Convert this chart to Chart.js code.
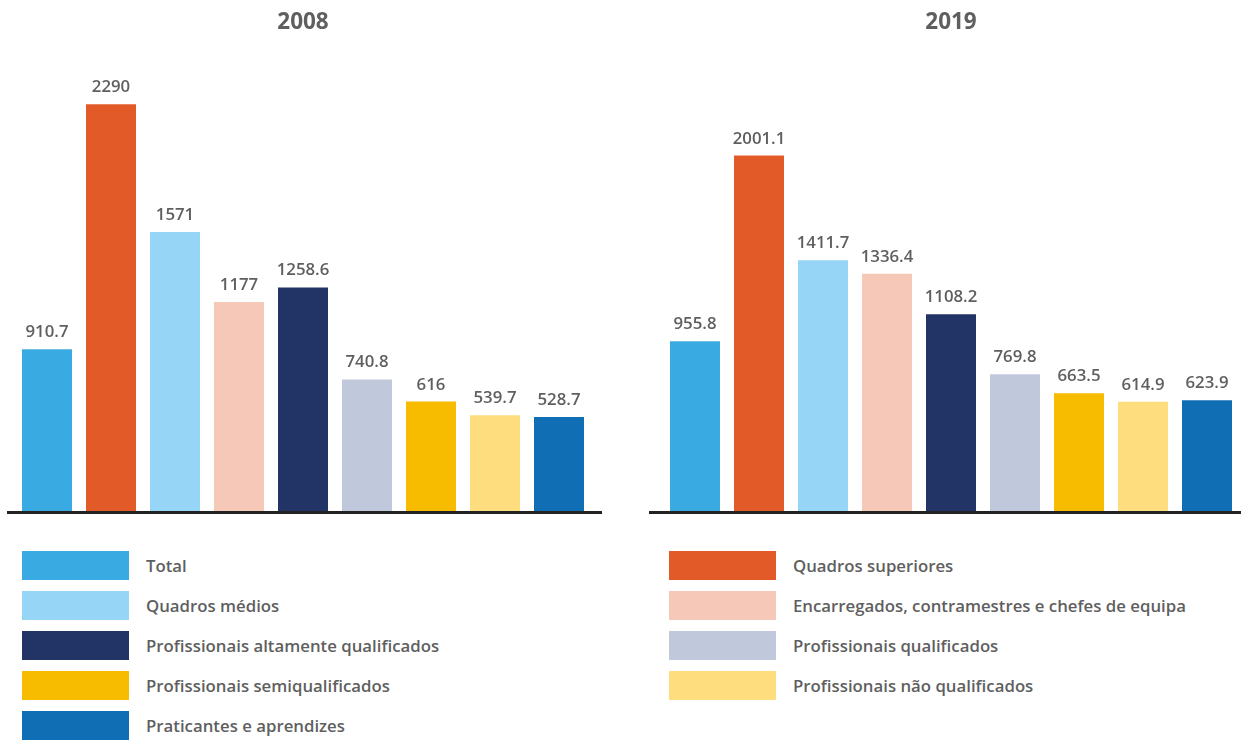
<!DOCTYPE html>
<html>
<head>
<meta charset="utf-8">
<script src="https://cdn.jsdelivr.net/npm/chart.js@4"></script>
<style>
  body { margin: 0; background: #fff; font-family: "Open Sans", sans-serif; }
  #wrap { position: relative; width: 1241px; height: 740px; overflow: hidden; }
  .box { position: absolute; top: 0; height: 520px; }
  #left { left: 0; width: 620px; }
  #right { left: 620px; width: 621px; }
  .legend { position: absolute; top: 551px; }
  .item { position: relative; height: 40px; }
  .swatch { position: absolute; left: 0; top: 0; width: 107px; height: 29px; }
  .label { position: absolute; left: 124px; top: 0; line-height: 29px; font-size: 16.8px; font-weight: 600; color: #5f5f5f; white-space: nowrap; }
</style>
</head>
<body>
<div id="wrap">
  <div class="box" id="left"><canvas id="chart2008"></canvas></div>
  <div class="box" id="right"><canvas id="chart2019"></canvas></div>
  <div class="legend" id="legendLeft" style="left:22px"></div>
  <div class="legend" id="legendRight" style="left:669px"></div>
</div>
<script>
const categories = [
  "Total",
  "Quadros superiores",
  "Quadros médios",
  "Encarregados, contramestres e chefes de equipa",
  "Profissionais altamente qualificados",
  "Profissionais qualificados",
  "Profissionais semiqualificados",
  "Profissionais não qualificados",
  "Praticantes e aprendizes",
];
const values2008 = [910.7, 2290, 1571, 1177, 1258.6, 740.8, 616, 539.7, 528.7];
const values2019 = [955.8, 2001.1, 1411.7, 1336.4, 1108.2, 769.8, 663.5, 614.9, 623.9];
const colors = ["#3aaae2", "#e35a29", "#96d5f5", "#f6c8b8", "#223466", "#c0c9dc", "#f7bb00", "#fedd7e", "#106eb5"];

const textColor = "#5f5f5f";

// value labels above bars + baseline
const barExtras = {
  id: "barExtras",
  afterDatasetsDraw(chart, args, opts) {
    const ctx = chart.ctx;
    const area = chart.chartArea;
    const y0 = chart.scales.y.getPixelForValue(0);
    ctx.save();
    ctx.strokeStyle = "#222";
    ctx.lineWidth = 3;
    ctx.beginPath();
    ctx.moveTo(area.left - opts.lineLeft, y0 + 1.5);
    ctx.lineTo(area.right + opts.lineRight, y0 + 1.5);
    ctx.stroke();

    ctx.fillStyle = textColor;
    ctx.font = "600 16.8px 'Open Sans'";
    ctx.textAlign = "center";
    ctx.textBaseline = "alphabetic";
    const data = chart.data.datasets[0].data;
    chart.getDatasetMeta(0).data.forEach((bar, i) => {
      ctx.fillText(String(data[i]), bar.x, bar.y - 12);
    });
    ctx.restore();
  },
};

function makeChart(id, title, values, pad, lineLeft, lineRight) {
  return new Chart(document.getElementById(id), {
    type: "bar",
    data: {
      labels: categories,
      datasets: [{
        data: values,
        backgroundColor: colors,
        borderWidth: 0,
        barPercentage: 50 / 64,
        categoryPercentage: 1,
      }],
    },
    options: {
      responsive: true,
      maintainAspectRatio: false,
      animation: false,
      layout: { padding: { left: pad.left, right: pad.right, top: 0, bottom: 9 } },
      scales: {
        x: { display: false },
        y: { display: false, min: 0, max: 2500 },
      },
      plugins: {
        legend: { display: false },
        tooltip: { enabled: false },
        title: {
          display: true,
          text: title,
          color: textColor,
          font: { family: "'Open Sans'", size: 22.5, weight: "bold" },
          padding: { top: 9, bottom: 31 },
        },
        barExtras: { lineLeft: lineLeft, lineRight: lineRight },
      },
    },
    plugins: [barExtras],
  });
}

makeChart("chart2008", "2008", values2008, { left: 15, right: 29 }, 8, 11);
makeChart("chart2019", "2019", values2019, { left: 43, right: 2 }, 14, 10);

// html legend in two columns
function addItem(el, i) {
  const item = document.createElement("div");
  item.className = "item";
  item.innerHTML = '<div class="swatch" style="background:' + colors[i] + '"></div>' +
    '<div class="label">' + categories[i] + '</div>';
  el.appendChild(item);
}
const legendLeft = document.getElementById("legendLeft");
const legendRight = document.getElementById("legendRight");
categories.forEach((c, i) => {
  addItem(i % 2 === 0 ? legendLeft : legendRight, i);
});
</script>
</body>
</html>
